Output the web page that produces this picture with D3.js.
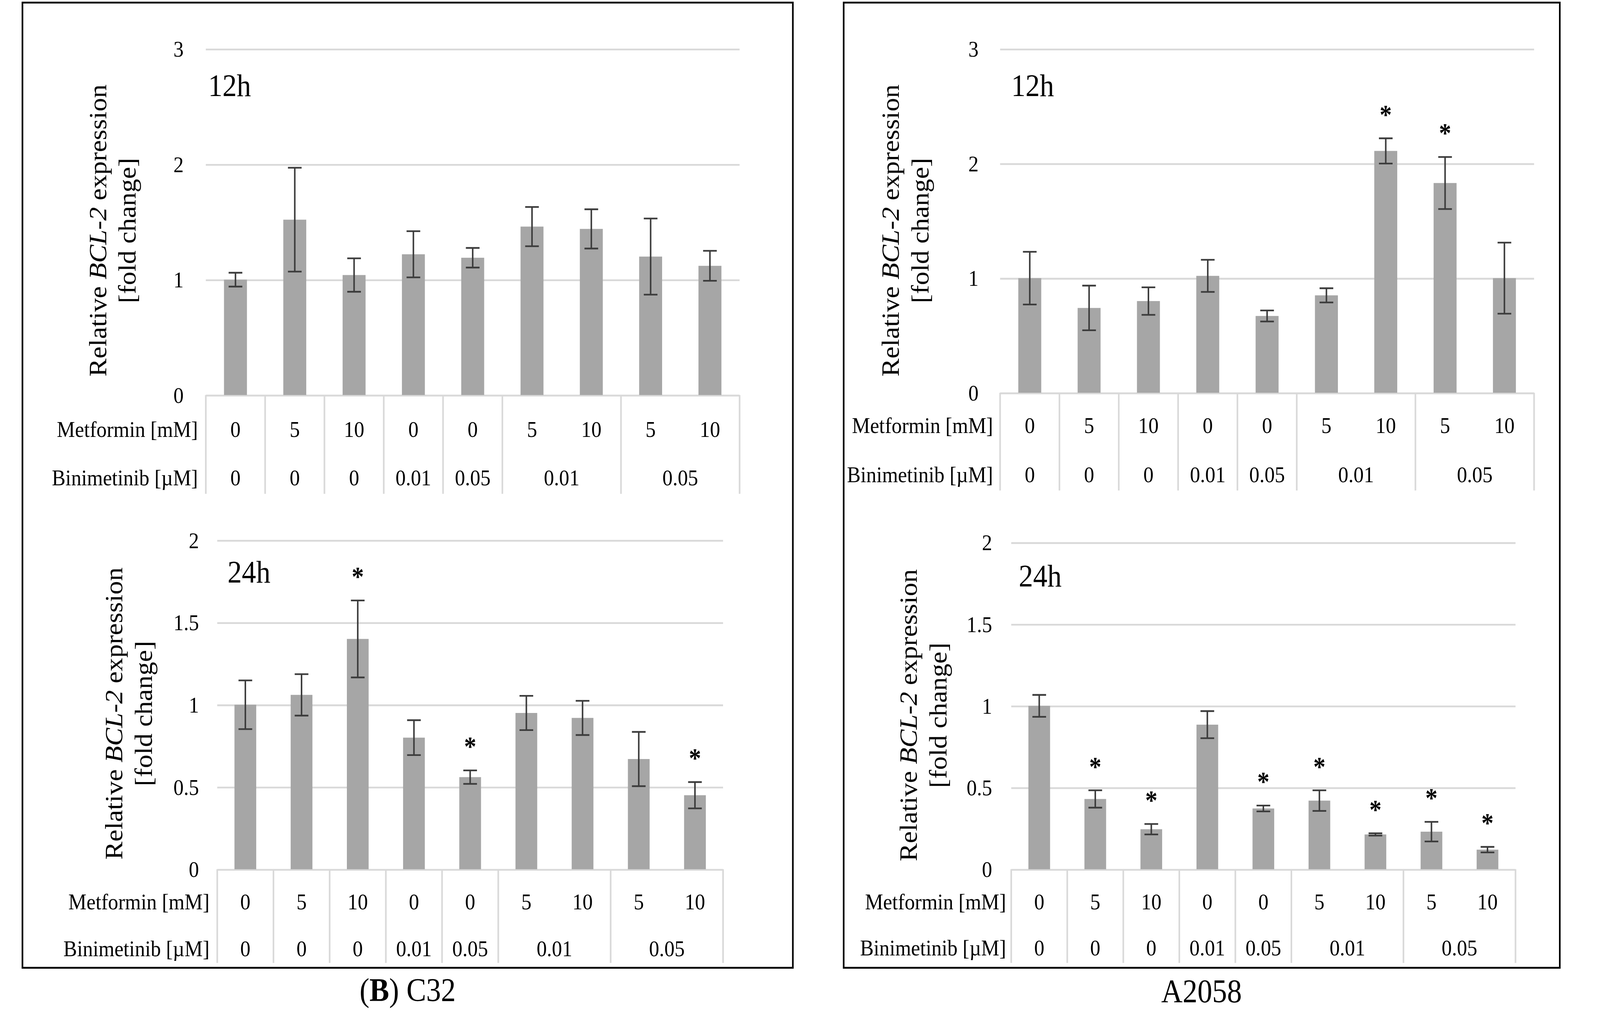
<!DOCTYPE html>
<html>
<head>
<meta charset="utf-8">
<script src="https://cdn.jsdelivr.net/npm/d3@7"></script>
<style>
  html, body { margin: 0; padding: 0; background: #fff; overflow: hidden; }
  #figure svg { display: block; width: 100vw; height: 100vh; }
  text { font-family: "Liberation Serif", "Times New Roman", serif; fill: #000; }
</style>
</head>
<body>
<div id="figure"></div>
<script>
// category labels (shared by all four charts)
const metforminLabels = ["0", "5", "10", "0", "0", "5", "10", "5", "10"];
const binimetinibLabels = ["0", "0", "0", "0.01", "0.05", "0.01", "0.05"];
const binimetinibSpans = [1, 1, 1, 1, 1, 2, 2];

// y ticks
const ticks12 = [0, 1, 2, 3];
const ticks24 = [0, 0.5, 1, 1.5, 2];

// C32, 12h
const c32Mean12 = [1.00, 1.52, 1.04, 1.22, 1.19, 1.46, 1.44, 1.20, 1.12];
const c32Err12  = [0.06, 0.45, 0.145, 0.20, 0.085, 0.17, 0.17, 0.33, 0.13];
const c32Sig12  = [0, 0, 0, 0, 0, 0, 0, 0, 0];

// C32, 24h
const c32Mean24 = [1.00, 1.06, 1.40, 0.80, 0.56, 0.95, 0.92, 0.67, 0.45];
const c32Err24  = [0.148, 0.126, 0.234, 0.106, 0.041, 0.104, 0.104, 0.165, 0.08];
const c32Sig24  = [0, 0, 1, 0, 1, 0, 0, 0, 1];

// A2058, 12h
const a2058Mean12 = [1.00, 0.74, 0.80, 1.02, 0.67, 0.85, 2.11, 1.83, 1.00];
const a2058Err12  = [0.23, 0.195, 0.12, 0.14, 0.048, 0.062, 0.11, 0.227, 0.31];
const a2058Sig12  = [0, 0, 0, 0, 0, 0, 1, 1, 0];

// A2058, 24h
const a2058Mean24 = [1.00, 0.43, 0.245, 0.885, 0.372, 0.42, 0.213, 0.23, 0.12];
const a2058Err24  = [0.067, 0.053, 0.032, 0.083, 0.018, 0.063, 0.007, 0.06, 0.017];
const a2058Sig24  = [0, 1, 1, 0, 1, 1, 1, 1, 1];

const W = 1568, H = 897.4;
const gridColor = "#d9d9d9";
const barColor = "#a6a6a6";
const errColor = "#3c3c3c";

// the svg is stretched over the whole window, drawn in a 1568-wide frame
const svg = d3.select("#figure").append("svg")
    .attr("viewBox", "0 0 " + W + " " + H)
    .attr("preserveAspectRatio", "none");

svg.append("rect").attr("width", W).attr("height", H).attr("fill", "#fff");

// panel frames
[[22, 777], [826.8, 1528.6]].forEach(function(p) {
    svg.append("rect")
        .attr("x", p[0]).attr("y", 2.3)
        .attr("width", p[1] - p[0]).attr("height", 856.5 - 2.3)
        .attr("fill", "none")
        .attr("stroke", "#000")
        .attr("stroke-width", 1.6);
});

// captions
let cap1 = svg.append("text").attr("x", 399.5).attr("y", 886)
    .attr("text-anchor", "middle").style("font-size", "29px");
cap1.append("tspan").text("(");
cap1.append("tspan").style("font-weight", "bold").text("B");
cap1.append("tspan").text(") C32");

svg.append("text").attr("x", 1177.5).attr("y", 887)
    .attr("text-anchor", "middle").style("font-size", "29px")
    .text("A2058");

let charts = [
    {mean: c32Mean12, err: c32Err12, sig: c32Sig12, ticks: ticks12, yMax: 3, time: "12h",
     x0: 201.7, x1: 724.8, yTop: 43.3, yZero: 349.6, tableBottom: 437, row1: 379.7, row2: 422.6,
     rowLabelX: 194, tickX: 180, timeX: 204, timeY: 85, titleX: 104, titleY: 204},
    {mean: c32Mean24, err: c32Err24, sig: c32Sig24, ticks: ticks24, yMax: 2, time: "24h",
     x0: 212.9, x1: 708.6, yTop: 478.1, yZero: 769.3, tableBottom: 852.2, row1: 797.9, row2: 839.3,
     rowLabelX: 205.3, tickX: 195, timeX: 223, timeY: 515.5, titleX: 120, titleY: 631.5},
    {mean: a2058Mean12, err: a2058Err12, sig: a2058Sig12, ticks: ticks12, yMax: 3, time: "12h",
     x0: 980.1, x1: 1503.4, yTop: 43.3, yZero: 347.6, tableBottom: 434.1, row1: 376.2, row2: 419.8,
     rowLabelX: 973.2, tickX: 959, timeX: 991, timeY: 85, titleX: 881, titleY: 204},
    {mean: a2058Mean24, err: a2058Err24, sig: a2058Sig24, ticks: ticks24, yMax: 2, time: "24h",
     x0: 991, x1: 1485.2, yTop: 480.1, yZero: 769.3, tableBottom: 852.2, row1: 797.9, row2: 838.5,
     rowLabelX: 986, tickX: 972.3, timeX: 998.4, timeY: 519, titleX: 898.5, titleY: 633}
];

charts.forEach(drawChart);

function drawChart(c) {
    let g = svg.append("g");
    let n = metforminLabels.length;

    let x = d3.scaleBand().domain(d3.range(n)).range([c.x0, c.x1]).padding(0);
    let xBar = d3.scaleBand().domain(d3.range(n)).range([c.x0, c.x1])
        .paddingInner(0.613).paddingOuter(0.3065);
    let y = d3.scaleLinear().domain([0, c.yMax]).range([c.yZero, c.yTop]);

    // gridlines + tick labels
    let yAxis = d3.axisLeft(y)
        .tickValues(c.ticks)
        .tickSize(-(c.x1 - c.x0))
        .tickPadding(c.x0 - c.tickX)
        .tickFormat(d3.format("~g"));

    let ax = g.append("g")
        .attr("transform", "translate(" + c.x0 + ",0)")
        .call(yAxis);
    ax.select(".domain").remove();
    ax.selectAll("line").attr("stroke", gridColor).attr("stroke-width", 1.6);
    ax.selectAll("text")
        .attr("fill", "#000")
        .style("font-size", "20px")
        .style("font-family", "'Liberation Serif', serif");

    // bars
    g.selectAll(".bar")
        .data(c.mean)
        .enter()
        .append("rect")
        .attr("class", "bar")
        .attr("x", (d, i) => xBar(i))
        .attr("width", xBar.bandwidth())
        .attr("y", d => y(d))
        .attr("height", d => y(0) - y(d))
        .attr("fill", barColor);

    // error bars
    let capW = 6.7;
    c.mean.forEach(function(m, i) {
        let cx = x(i) + x.bandwidth() / 2;
        let hi = y(m + c.err[i]), lo = y(m - c.err[i]);
        let eb = g.append("g")
            .attr("stroke", errColor)
            .attr("stroke-width", 1.5);
        eb.append("line").attr("x1", cx).attr("x2", cx).attr("y1", hi).attr("y2", lo);
        eb.append("line").attr("x1", cx - capW).attr("x2", cx + capW).attr("y1", hi).attr("y2", hi);
        eb.append("line").attr("x1", cx - capW).attr("x2", cx + capW).attr("y1", lo).attr("y2", lo);

        // significance mark sits a fixed distance above the error bar
        if (c.sig[i]) {
            g.append("text")
                .attr("x", cx)
                .attr("y", hi - 24 + 11)
                .attr("text-anchor", "middle")
                .style("font-size", "24px")
                .style("font-weight", "bold")
                .text("*");
        }
    });

    // category table below the axis
    let bounds = [0];
    binimetinibSpans.forEach(s => bounds.push(bounds[bounds.length - 1] + s));
    bounds.forEach(function(b) {
        let bx = c.x0 + b * x.step();
        g.append("line")
            .attr("x1", bx).attr("x2", bx)
            .attr("y1", c.yZero).attr("y2", c.tableBottom)
            .attr("stroke", gridColor)
            .attr("stroke-width", 1.6);
    });

    g.selectAll(".met")
        .data(metforminLabels)
        .enter()
        .append("text")
        .attr("class", "met")
        .attr("x", (d, i) => x(i) + x.bandwidth() / 2)
        .attr("y", c.row1)
        .attr("dy", "0.35em")
        .attr("text-anchor", "middle")
        .style("font-size", "20px")
        .text(d => d);

    binimetinibLabels.forEach(function(lab, k) {
        let mid = (bounds[k] + bounds[k + 1]) / 2;
        g.append("text")
            .attr("x", c.x0 + mid * x.step())
            .attr("y", c.row2)
            .attr("dy", "0.35em")
            .attr("text-anchor", "middle")
            .style("font-size", "20px")
            .text(lab);
    });

    g.append("text")
        .attr("x", c.rowLabelX).attr("y", c.row1).attr("dy", "0.35em")
        .attr("text-anchor", "end").style("font-size", "20px")
        .text("Metformin [mM]");
    g.append("text")
        .attr("x", c.rowLabelX).attr("y", c.row2).attr("dy", "0.35em")
        .attr("text-anchor", "end").style("font-size", "20px")
        .text("Binimetinib [\u00b5M]");

    // time label
    g.append("text")
        .attr("x", c.timeX).attr("y", c.timeY)
        .style("font-size", "28px")
        .text(c.time);

    // y title, two lines
    let t1 = g.append("text")
        .attr("transform", "translate(" + c.titleX + "," + c.titleY + ") rotate(-90)")
        .attr("text-anchor", "middle")
        .style("font-size", "24px");
    t1.append("tspan").text("Relative ");
    t1.append("tspan").style("font-style", "italic").text("BCL-2");
    t1.append("tspan").text(" expression");

    g.append("text")
        .attr("transform", "translate(" + (c.titleX + 29) + "," + c.titleY + ") rotate(-90)")
        .attr("text-anchor", "middle")
        .style("font-size", "24px")
        .text("[fold change]");
}
</script>
</body>
</html>
